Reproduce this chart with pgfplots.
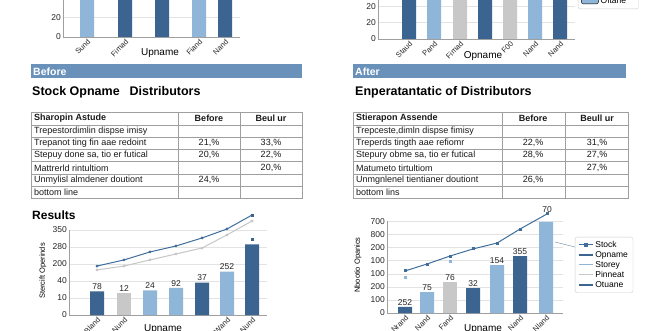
\documentclass[border=0pt]{standalone}
\usepackage{fontspec}
\setmainfont{Liberation Sans}
\usepackage{pgfplots}
\pgfplotsset{compat=1.18}
\definecolor{dkb}{HTML}{3B6590}
\definecolor{ltb}{HTML}{8FB6D8}
\definecolor{gry}{HTML}{C8C8C8}
\definecolor{ban}{HTML}{6991B9}
\definecolor{lnb}{HTML}{3F6E9C}
\newcommand\tf{\fontsize{9}{10}\selectfont}
\pgfplotsset{
  base/.style={scale only axis, anchor=south west, axis lines=left,
    axis line style={draw=gray!75,-}, ymajorgrids, grid style={draw=gray!22},
    major tick length=0pt, clip=false,
    tick label style={font=\fontsize{8.5}{9}\selectfont, text=black!85},
    xticklabel style={rotate=45, anchor=north east, font=\fontsize{7.5}{8}\selectfont, inner sep=1pt},
    yticklabel style={inner sep=2pt},
    /pgf/number format/assume math mode=true},
  mybar/.style={ybar, bar width=14, bar shift=0pt, draw=none, fill=#1, area legend},
  lab/.style={nodes near coords, point meta=explicit symbolic,
    nodes near coords style={font=\fontsize{8.5}{9}\selectfont, text=black!85, inner sep=1.5pt}},
}
\begin{document}
\begin{tikzpicture}
\useasboundingbox (0,0) rectangle (660pt,330pt);
\clip (0,0) rectangle (660pt,330pt);
\fill[white] (0,0) rectangle (660pt,330pt);

% ---------- top left chart
\begin{axis}[base, at={(63pt,293pt)}, width=177pt, height=39pt,
  xmin=63, xmax=240, ymin=0, ymax=40, ytick={0,20,40}, yticklabels={0,20,20},
  xtick={87,125,199,225}, xticklabels={Sund,Fimad,Fiand,Nand}]
\addplot[mybar=ltb] coordinates {(87,45) (199,45)};
\addplot[mybar=dkb] coordinates {(125,45) (162,45) (225,45)};
\end{axis}

% ---------- top right chart
\begin{axis}[base, at={(378pt,291pt)}, width=197pt, height=41pt,
  xmin=378, xmax=575, ymin=0, ymax=2.5, ytick={0,1,2}, yticklabels={0,20,20},
  xtick={409,434,460,510,535,560}, xticklabels={Staud,Pand,Fimad,F00,Nand,Nand},
  legend style={at={(1.015,0.73)}, anchor=south west, font=\fontsize{8.5}{9}\selectfont,
    draw=gray!40, rounded corners=2pt, row sep=-1pt}, legend cell align=left]
\addplot[mybar=dkb] coordinates {(409,3) (485,3) (560,3)}; \addlegendentry{Opname}
\addplot[mybar=gry] coordinates {(460,3) (510,3)}; \addlegendentry{Stock}
\addplot[mybar=ltb] coordinates {(434,3) (535,3)}; \addlegendentry{Oftane}
\end{axis}

% ---------- bottom left chart
\begin{axis}[base, at={(69pt,15pt)}, width=198pt, height=85pt,
  xmin=69, xmax=267, ymin=0, ymax=5, ytick={0,1,2,3,4,5}, yticklabels={0,10,40,200,280,350},
  xtick={97,124,227,252}, xticklabels={Bland,Nund,Wand,Nund}]
\addplot[mybar=dkb, lab] coordinates {(97,1.39) [78] (202,1.9) [37] (252,4.15) []};
\addplot[mybar=gry, lab] coordinates {(124,1.27) [12]};
\addplot[mybar=ltb, lab] coordinates {(150,1.45) [24] (176,1.6) [92] (227,2.55) [252]};
\addplot[gray!45, line width=1pt, mark=*, mark size=0.8pt] coordinates {(97,2.65) (124,2.88) (150,3.24) (176,3.59) (202,3.94) (227,4.71) (252,5.53)};
\addplot[lnb, line width=1pt, mark=*, mark size=0.8pt] coordinates {(97,2.88) (124,3.24) (150,3.71) (176,4.06) (202,4.53) (227,5.06) (252,5.88)};
\addplot[only marks, dkb, mark=square*, mark size=1.2pt] coordinates {(252,5.88) (252,4.47)};
\end{axis}

% ---------- bottom right chart
\begin{axis}[base, at={(387pt,17pt)}, width=176pt, height=91.7pt,
  xmin=387, xmax=563, ymin=0, ymax=7, ytick={0,1,2,3,4,5,6,7}, yticklabels={0,100,200,100,100,200,800,700},
  xtick={405,427,450,520,546}, xticklabels={Nrand,Nand,Fand,Nand,Nland},
  legend style={at={(1.068,0.83)}, anchor=north west, font=\fontsize{8.5}{9}\selectfont,
    draw=gray!40, rounded corners=2pt, row sep=-1.5pt}, legend cell align=left,
  legend image code/.code={\draw[#1] plot coordinates {(0pt,0pt) (7pt,0pt) (14pt,0pt)};}]
\addplot[mybar=dkb, lab, forget plot] coordinates {(405,0.46) [252] (473,1.9) [32] (520,4.35) [355]};
\addplot[mybar=ltb, lab, forget plot] coordinates {(427,1.6) [75] (497,3.66) [154] (546,6.95) []};
\addplot[mybar=gry, lab, forget plot] coordinates {(450,2.37) [76]};
\addplot[lnb, line width=1pt, mark=square*, mark size=1pt, forget plot] coordinates {(405,3.21) (427,3.74) (450,4.35) (473,4.89) (497,5.34) (520,6.41) (547,7.56)};
\addplot[only marks, ltb, mark=square*, mark size=1.2pt, forget plot] coordinates {(405,2.75) (450,3.97)};
\addplot[draw=none, lab, forget plot] coordinates {(547,7.56) [70]};
\addlegendimage{lnb, line width=0.9pt, mark=square*, mark size=1.2pt, mark repeat=2, mark phase=2}
\addlegendentry{Stock}
\addlegendimage{dkb, line width=1.2pt} \addlegendentry{Opname}
\addlegendimage{ltb, line width=1pt} \addlegendentry{Storey}
\addlegendimage{gry, line width=1pt} \addlegendentry{Pinneat}
\addlegendimage{dkb, line width=1.2pt} \addlegendentry{Otuane}
\end{axis}

% ---------- text, banners, tables (pixel coordinates)
\begin{scope}[x=1pt, y=-1pt, yshift=330pt]
% axis titles
\node[font=\fontsize{10}{11}\selectfont] at (160,53) {Upname};
\node[font=\fontsize{10}{11}\selectfont] at (483,56) {Opname};
\node[font=\fontsize{10}{11}\selectfont] at (163,329) {Upname};
\node[font=\fontsize{10}{11}\selectfont] at (483,329) {Upname};
\node[rotate=90, font=\fontsize{8}{9}\selectfont] at (33,-14) {Finame};
\node[rotate=90, font=\fontsize{8}{9}\selectfont] at (352,-14) {Enpame};
\node[rotate=90, font=\fontsize{7.5}{9}\selectfont] at (43,271) {Stercift Operinds};
\node[rotate=90, font=\fontsize{7.5}{9}\selectfont] at (358,265) {Nbootio Opanics};
\draw[gray!40!ltb, line width=0.6pt] (555,242) -- (575,247);
% banners
\fill[ban] (31,64) rectangle (302,78);
\node[anchor=west, text=white, font=\bfseries\fontsize{10.5}{11}\selectfont, inner sep=0] at (33,71.5) {Before};
\fill[ban] (353,64) rectangle (626,78);
\node[anchor=west, text=white, font=\bfseries\fontsize{10.5}{11}\selectfont, inner sep=0] at (355,71.5) {After};
% headings
\node[anchor=base west, inner sep=0, font=\bfseries\fontsize{12.5}{13}\selectfont] at (32,95) {Stock Opname\hspace{10pt}Distributors};
\node[anchor=base west, inner sep=0, font=\bfseries\fontsize{12.5}{13}\selectfont] at (355,95) {Enperatantatic of Distributors};
\node[anchor=west, inner sep=0, font=\bfseries\fontsize{12}{13}\selectfont] at (32,215) {Results};
% left table
\draw[gray!75, line width=0.7pt] (31,112) rectangle (302,198);
\foreach \yy in {125,137,149,161.5,174,186} \draw[gray!75, line width=0.6pt] (31,\yy) -- (302,\yy);
\draw[gray!75, line width=0.6pt] (178,112) -- (178,198) (240,112) -- (240,198);
\begin{scope}[every node/.style={font=\tf, inner sep=0, text=black!90}]
\node[anchor=west, font=\tf\bfseries] at (34,118.5) {Sharopin Astude};
\node[font=\tf\bfseries] at (209,118.5) {Before};
\node[font=\tf\bfseries] at (271,118.5) {Beul ur};
\node[anchor=west] at (34,131) {Trepestordimlin dispse imisy};
\node[anchor=west] at (34,143) {Trepanot ting fin aae redoint};
\node at (209,143) {21,\%}; \node at (271,143) {33,\%};
\node[anchor=west] at (34,155) {Stepuy done sa, tio er futical};
\node at (209,155) {20,\%}; \node at (271,155) {22,\%};
\node[anchor=west] at (34,168) {Mattrerld rintultiom};
\node at (271,168) {20,\%};
\node[anchor=west] at (34,180) {Unmylisl almdener doutiont};
\node at (209,180) {24,\%};
\node[anchor=west] at (34,192) {bottom line};
\end{scope}
% right table
\draw[gray!75, line width=0.7pt] (353,112) rectangle (628,198);
\foreach \yy in {125,137,149,161.5,174,186} \draw[gray!75, line width=0.6pt] (353,\yy) -- (628,\yy);
\draw[gray!75, line width=0.6pt] (502,112) -- (502,198) (565,112) -- (565,198);
\begin{scope}[every node/.style={font=\tf, inner sep=0, text=black!90}]
\node[anchor=west, font=\tf\bfseries] at (356,118.5) {Stierapon Assende};
\node[font=\tf\bfseries] at (533,118.5) {Before};
\node[font=\tf\bfseries] at (597,118.5) {Beull ur};
\node[anchor=west] at (356,131) {Trepceste,dimln dispse fimisy};
\node[anchor=west] at (356,143) {Treperds tingth aae refiomr};
\node at (533,143) {22,\%}; \node at (597,143) {31,\%};
\node[anchor=west] at (356,155) {Stepury obme sa, tio er futical};
\node at (533,155) {28,\%}; \node at (597,155) {27,\%};
\node[anchor=west] at (356,168) {Matumeto tirtultiom};
\node at (597,168) {27,\%};
\node[anchor=west] at (356,180) {Unmgnlenel tientianer doutiont};
\node at (533,180) {26,\%};
\node[anchor=west] at (356,192) {bottom lins};
\end{scope}
\end{scope}
\end{tikzpicture}
\end{document}
